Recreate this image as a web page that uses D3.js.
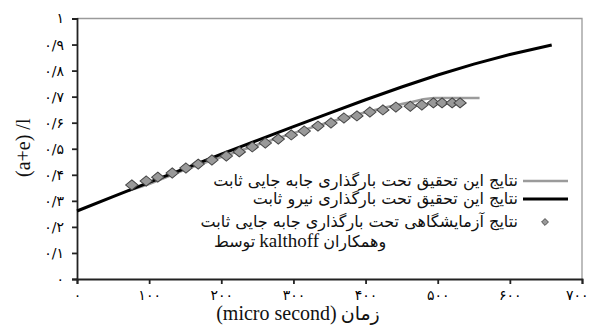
<!DOCTYPE html>
<html>
<head>
<meta charset="utf-8">
<script src="https://cdn.jsdelivr.net/npm/d3@7"></script>
<style>
  html, body { margin: 0; padding: 0; background: #fff; }
  svg { display: block; }
</style>
</head>
<body>
<svg id="chart" width="589" height="331"></svg>
<script>
// Time axis (micro second) and the (a+e)/l ratio
const xTicks = [0, 100, 200, 300, 400, 500, 600, 700];
const yTicks = [0, 0.1, 0.2, 0.3, 0.4, 0.5, 0.6, 0.7, 0.8, 0.9, 1];

// Constant-force loading (this study)
const timeForce  = [0, 50, 100, 150, 200, 250, 300, 350, 400, 450, 500, 550, 600, 658];
const ratioForce = [0.261, 0.316, 0.371, 0.425, 0.479, 0.532, 0.585, 0.637, 0.688, 0.737, 0.783, 0.825, 0.862, 0.898];

// Constant-displacement loading (this study)
const timeDisp  = [70, 100, 150, 200, 250, 300, 350, 400, 430, 460, 480, 495, 558];
const ratioDisp = [0.338, 0.365, 0.42, 0.468, 0.515, 0.56, 0.603, 0.64, 0.66, 0.677, 0.69, 0.695, 0.695];

// Experimental results, constant displacement (Kalthoff et al.)
const timeExp  = [76, 96, 112, 132, 151, 168, 187, 207, 225, 243, 261, 279, 297, 315, 334, 352, 370, 388, 406, 424, 442, 462, 478, 494, 506, 520, 531];
const ratioExp = [0.361, 0.376, 0.391, 0.407, 0.426, 0.441, 0.457, 0.472, 0.488, 0.507, 0.522, 0.537, 0.553, 0.568, 0.587, 0.599, 0.618, 0.626, 0.641, 0.649, 0.660, 0.663, 0.668, 0.676, 0.676, 0.676, 0.676];

const legendLabels = [
  "نتایج این تحقیق تحت بارگذاری جابه جایی ثابت",
  "نتایج این تحقیق تحت بارگذاری نیرو ثابت",
  "نتایج آزمایشگاهی تحت بارگذاری جابه جایی ثابت"
];
// last legend line, laid out left to right in three runs
const legendTail = ["توسط", "kalthoff", "وهمکاران"];
const xTitleParts = ["(micro second)", "زمان"];
const yTitle = "(a+e) /l";

const faDigits = "۰۱۲۳۴۵۶۷۸۹";
const toFa = s => String(s).replace(/[0-9]/g, d => faDigits[+d]);
const fmtY = v => v === 0 ? "۰" : v === 1 ? "۱" : toFa("0/" + Math.round(v * 10));

const W = 589;
const svg = d3.select("#chart");
const plotLeft = 77, plotRight = 582, plotTop = 18.5, plotBottom = 279;

const x = d3.scaleLinear().domain([0, 700]).range([plotLeft, plotRight]);
const y = d3.scaleLinear().domain([0, 1]).range([plotBottom, plotTop]);

const serif = "'Liberation Serif', serif";
const persian = "'DejaVu Sans', sans-serif";

// plot frame: light top/right edges
svg.append("path")
  .attr("d", `M${plotLeft},${plotTop}H${plotRight}V${plotBottom}`)
  .attr("fill", "none").attr("stroke", "#9a9a9a").attr("stroke-width", 1.3);

// y axis
const yAxis = svg.append("g").attr("transform", `translate(${plotLeft},0)`)
  .call(d3.axisLeft(y).tickValues(yTicks).tickFormat(fmtY).tickSize(5).tickPadding(8));
yAxis.selectAll("path,line").attr("stroke", "#222").attr("stroke-width", 1.8);
yAxis.selectAll("text").attr("font-family", persian).attr("font-size", 14)
  .attr("fill", "#000");

// x axis
const xAxis = svg.append("g").attr("transform", `translate(0,${plotBottom})`)
  .call(d3.axisBottom(x).tickValues(xTicks).tickFormat(toFa).tickSize(5).tickPadding(6));
xAxis.selectAll("path,line").attr("stroke", "#222").attr("stroke-width", 1.8);
xAxis.selectAll("text").attr("font-family", persian).attr("font-size", 14)
  .attr("fill", "#000")
  .each(function(d) {
    // keep the last label inside the chart
    const w = this.getComputedTextLength();
    const over = x(d) + w / 2 - (W - 1);
    if (over > 0) d3.select(this).attr("dx", -over);
  });

// y title
svg.append("text")
  .attr("transform", `translate(30,${(plotTop + plotBottom) / 2 - 1}) rotate(-90)`)
  .attr("text-anchor", "middle")
  .attr("font-family", serif).attr("font-size", 20)
  .attr("fill", "#111").text(yTitle);

// x title: latin run then persian run, centred as a whole
{
  const g = svg.append("g");
  const a = g.append("text").attr("y", 320).attr("font-family", serif).attr("font-size", 20)
    .attr("fill", "#111").text(xTitleParts[0]);
  const b = g.append("text").attr("y", 320).attr("font-family", persian).attr("font-size", 19)
    .attr("fill", "#111").text(xTitleParts[1]);
  const wa = a.node().getComputedTextLength(), wb = b.node().getComputedTextLength();
  const gap = 4, start = 298 - (wa + gap + wb) / 2;
  a.attr("x", start);
  b.attr("x", start + wa + gap);
}

// series
const line = d3.line().x(d => x(d[0])).y(d => y(d[1]));

svg.append("path")
  .datum(d3.zip(timeDisp, ratioDisp))
  .attr("d", line).attr("fill", "none")
  .attr("stroke", "#9b9b9b").attr("stroke-width", 2.6);

svg.append("path")
  .datum(d3.zip(timeForce, ratioForce))
  .attr("d", line).attr("fill", "none")
  .attr("stroke", "#000").attr("stroke-width", 3);

const diamond = d3.symbol().type(d3.symbolDiamond2).size(80);
svg.append("g").selectAll("path")
  .data(d3.zip(timeExp, ratioExp))
  .join("path")
  .attr("transform", d => `translate(${x(d[0])},${y(d[1])}) scale(1.1,0.9)`)
  .attr("d", diamond)
  .attr("fill", "#999").attr("stroke", "#444").attr("stroke-width", 1);

// legend
const lg = svg.append("g");
const textRight = 518, textLeft = 213;
const rows = [181, 199, 222, 242];

lg.append("line").attr("x1", 523).attr("x2", 568).attr("y1", rows[0]).attr("y2", rows[0])
  .attr("stroke", "#9b9b9b").attr("stroke-width", 2.6);
lg.append("line").attr("x1", 523).attr("x2", 568).attr("y1", rows[1]).attr("y2", rows[1])
  .attr("stroke", "#000").attr("stroke-width", 3);
lg.append("path").attr("transform", `translate(545,${rows[2]})`)
  .attr("d", d3.symbol().type(d3.symbolDiamond2).size(30))
  .attr("fill", "#999").attr("stroke", "#444").attr("stroke-width", 0.9);

legendLabels.forEach((t, i) => {
  const el = lg.append("text")
    .attr("y", rows[i] + 5)
    .attr("text-anchor", "middle")
    .attr("font-family", persian).attr("font-size", 16)
    .attr("fill", "#111").text(t);
  const w = el.node().getComputedTextLength();
  el.attr("x", textRight - w / 2);
});

{
  let cx = textLeft + 1;
  legendTail.forEach((t, i) => {
    const el = lg.append("text")
      .attr("y", rows[3] + 5)
      .attr("font-family", i === 1 ? serif : persian)
      .attr("font-size", i === 1 ? 19 : 16)
      .attr("fill", "#111").text(t)
      .attr("x", cx);
    cx += el.node().getComputedTextLength() + 4;
  });
}
</script>
</body>
</html>
